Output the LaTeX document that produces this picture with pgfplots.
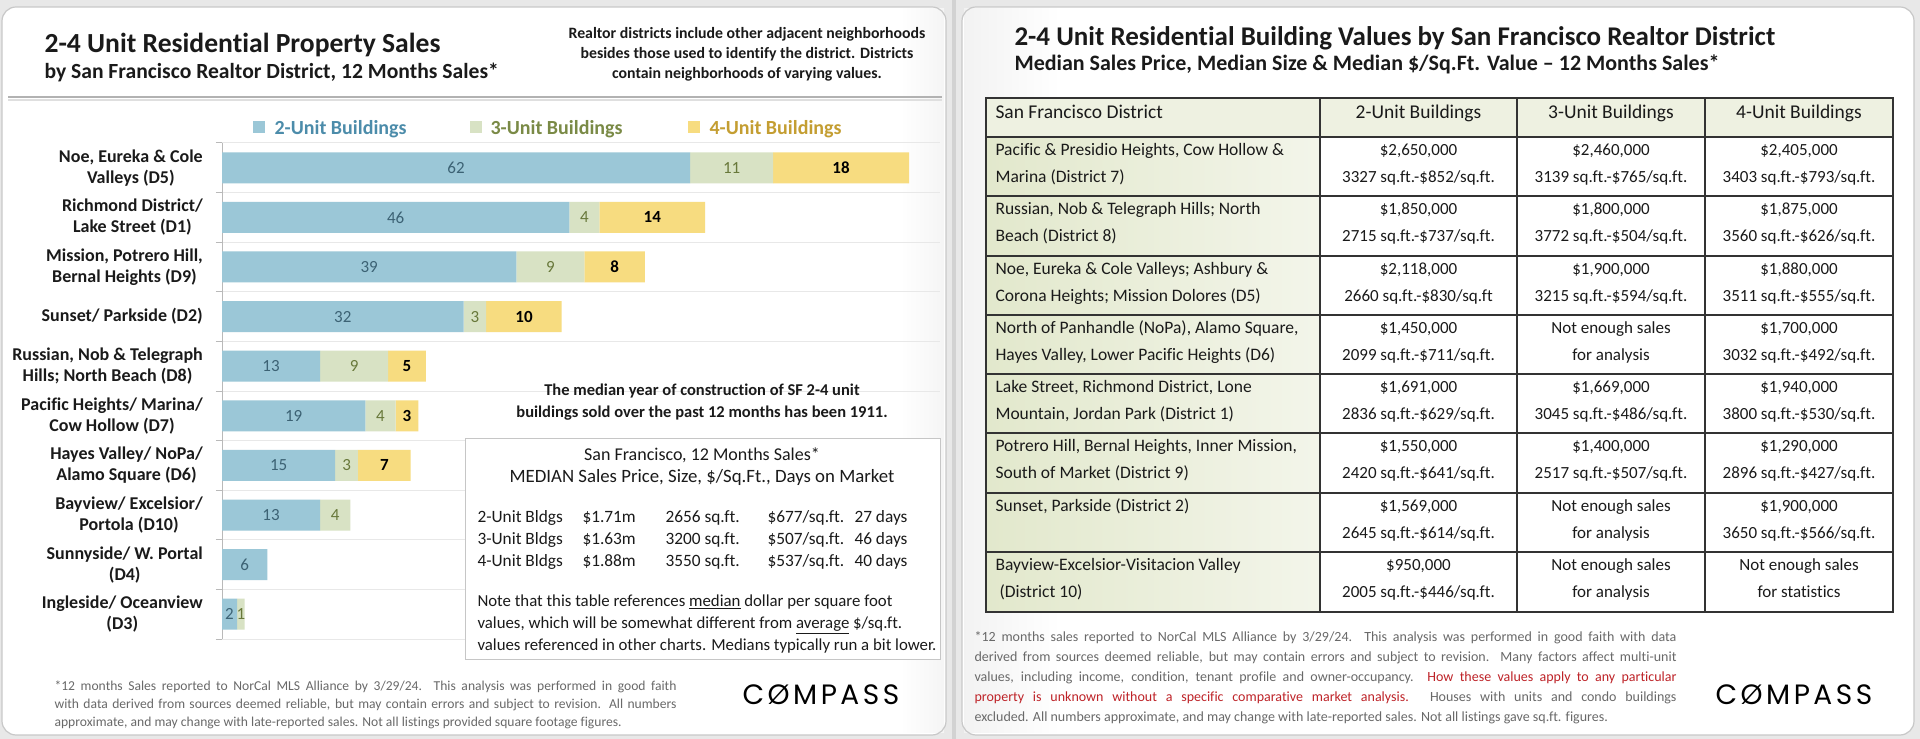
\documentclass[border=0pt]{standalone}
\usepackage{fontspec}
\setmainfont{Carlito}[Ligatures=NoCommon]
\newfontfamily\logofont{Poppins}
\usepackage{pgfplots}
\usepackage{pgfplotstable}
\pgfplotsset{compat=1.18}

\definecolor{barA}{RGB}{155,199,215}
\definecolor{barB}{RGB}{216,226,196}
\definecolor{barC}{RGB}{247,220,128}
\definecolor{labA}{RGB}{60,98,116}
\definecolor{labB}{RGB}{104,120,58}
\definecolor{legA}{RGB}{76,140,170}
\definecolor{legB}{RGB}{122,138,70}
\definecolor{legC}{RGB}{196,158,50}
\definecolor{ink}{RGB}{26,26,26}
\definecolor{note}{RGB}{105,105,105}
\definecolor{redtxt}{RGB}{190,35,40}
\definecolor{distL}{RGB}{226,232,204}
\definecolor{distR}{RGB}{243,245,234}
\definecolor{headfill}{RGB}{238,241,225}
\definecolor{bg}{RGB}{232,232,232}
\definecolor{pageedge}{RGB}{200,200,200}

\newcommand{\fs}[2]{\fontsize{#1pt}{#2pt}\selectfont}
\pgfdeclareplotmark{empty}{}

% sales by district, 2-, 3- and 4-unit buildings
\pgfplotstableread{
idx n2 n3 n4
0 62 11 18
1 46 4 14
2 39 9 8
3 32 3 10
4 13 9 5
5 19 4 3
6 15 3 7
7 13 4 0
8 6 0 0
9 2 1 0
}\sales

\newcommand{\tcell}[4]{%
  \node[anchor=base, font=\fs{17}{20}, text=ink] at (#1,#2+18.5) {#3};
  \node[anchor=base, font=\fs{17}{20}, text=ink] at (#1,#2+45.5) {#4};}
\newcommand{\dcell}[3]{%
  \node[anchor=base west, font=\fs{17.5}{20}, text=ink] at (992,#1+18.5) {#2};
  \node[anchor=base west, font=\fs{17.5}{20}, text=ink] at (992,#1+45.5) {#3};}

\begin{document}
\begin{tikzpicture}[x=1pt,y=1pt]
\path[use as bounding box] (0,0) rectangle (1920,739);
\fill[bg] (0,0) rectangle (1920,739);

\begin{scope}[shift={(0,739)},yscale=-1]
  % pages
  \fill[white, rounded corners=14pt] (2,7) rectangle (946,735);
  \fill[white, rounded corners=14pt] (962,7) rectangle (1914,735);
  \shade[left color=gray!10, right color=white] (964,9) rectangle (1060,733);
  \shade[left color=white, right color=gray!8] (900,9) rectangle (944,733);
  \draw[pageedge, line width=1.2pt, rounded corners=14pt] (2,7) rectangle (946,735);
  \draw[pageedge, line width=1.2pt, rounded corners=14pt] (962,7) rectangle (1914,735);
  \fill[gray!35] (952,0) rectangle (956,739);

  % left header
  \node[anchor=base west, font=\fs{27.6}{32}\bfseries, text=ink] at (41,53) {2-4 Unit Residential Property Sales};
  \node[anchor=base west, font=\fs{21.6}{25}\bfseries, text=ink] at (41,79) {by San Francisco Realtor District, 12 Months Sales*};
  \node[anchor=base, font=\fs{15.8}{20}\bfseries, text=ink] at (747,39) {Realtor districts include other adjacent neighborhoods};
  \node[anchor=base, font=\fs{15.8}{20}\bfseries, text=ink] at (747,59) {besides those used to identify the district. Districts};
  \node[anchor=base, font=\fs{15.8}{20}\bfseries, text=ink] at (747,79) {contain neighborhoods of varying values.};
  \draw[gray!25, line width=2pt] (8,100) -- (942,100);
  \draw[gray!60, line width=2.2pt] (8,97) -- (942,97);

  % legend
  \fill[barA] (253,121) rectangle (265,133);
  \node[anchor=base west, font=\fs{20}{22}\bfseries, text=legA] at (271,134.5) {2-Unit Buildings};
  \fill[barB] (470,121) rectangle (482,133);
  \node[anchor=base west, font=\fs{20}{22}\bfseries, text=legB] at (487,134.5) {3-Unit Buildings};
  \fill[barC] (688,121) rectangle (700,133);
  \node[anchor=base west, font=\fs{20}{22}\bfseries, text=legC] at (706,134.5) {4-Unit Buildings};
\end{scope}

\begin{axis}[at={(222pt,100pt)}, anchor=south west, scale only axis,
  width=718pt, height=496pt,
  xbar stacked, bar width=31pt, y dir=reverse,
  xmin=0, xmax=95.1, ymin=-0.5, ymax=9.5,
  axis x line=none, axis y line*=left,
  axis line style={draw=gray!55, line width=1pt},
  ytick={-0.5,0.5,...,9.5}, yticklabels={},
  tick align=outside, major tick length=6pt,
  ytick style={draw=gray!55, line width=1pt},
  ymajorgrids, grid style={draw=gray!18, line width=1pt},
  extra y ticks={0,1,2,3,4,5,6,7,8,9},
  extra y tick style={major tick length=0pt, grid=none},
  extra y tick labels={
    {Noe, Eureka \& Cole\\Valleys (D5)},
    {Richmond District/\\Lake Street (D1)},
    {Mission, Potrero Hill,\\Bernal Heights (D9)},
    {Sunset/ Parkside (D2)},
    {Russian, Nob \& Telegraph\\Hills; North Beach (D8)},
    {Pacific Heights/ Marina/\\Cow Hollow (D7)},
    {Hayes Valley/ NoPa/\\Alamo Square (D6)},
    {Bayview/ Excelsior/\\Portola (D10)},
    {Sunnyside/ W. Portal\\(D4)},
    {Ingleside/ Oceanview\\(D3)}},
  yticklabel style={align=center, inner sep=0pt, xshift=-19pt,
    font=\fs{18}{21}\bfseries, text=ink},
  clip=false]
\addplot[fill=barA, draw=none] table[x=n2, y=idx] {\sales};
\addplot[fill=barB, draw=none] table[x=n3, y=idx] {\sales};
\addplot[fill=barC, draw=none] table[x=n4, y=idx] {\sales};
\end{axis}

\begin{axis}[at={(222pt,100pt)}, anchor=south west, scale only axis,
  width=718pt, height=496pt, y dir=reverse,
  xmin=0, xmax=95.1, ymin=-0.5, ymax=9.5, hide axis, clip=false,
  /pgf/number format/assume math mode=true,
  nodes near coords={\pgfmathfloatifflags{\pgfplotspointmeta}{0}{}{\pgfmathprintnumber{\pgfplotspointmeta}}},
  every node near coord/.append style={anchor=center, inner sep=0pt}]
\addplot[only marks, mark=empty, point meta=explicit,
  every node near coord/.append style={text=labA, font=\fs{17}{18}}]
  table[x expr=\thisrow{n2}/2, y=idx, meta=n2] {\sales};
\addplot[only marks, mark=empty, point meta=explicit,
  every node near coord/.append style={text=labB, font=\fs{17}{18}}]
  table[x expr=\thisrow{n2}+\thisrow{n3}/2, y=idx, meta=n3] {\sales};
\addplot[only marks, mark=empty, point meta=explicit,
  every node near coord/.append style={text=black, font=\fs{17}{18}\bfseries}]
  table[x expr=\thisrow{n2}+\thisrow{n3}+\thisrow{n4}/2, y=idx, meta=n4] {\sales};
\end{axis}

\begin{scope}[shift={(0,739)},yscale=-1]
  % median year note and summary box
  \node[anchor=base, font=\fs{16.5}{20}\bfseries, text=ink] at (702,396) {The median year of construction of SF 2-4 unit};
  \node[anchor=base, font=\fs{16.5}{20}\bfseries, text=ink] at (702,418) {buildings sold over the past 12 months has been 1911.};
  \draw[gray!45, fill=white, line width=1pt] (465,439) rectangle (940,660);
  \node[anchor=base, font=\fs{18}{21}, text=ink] at (702,461) {San Francisco, 12 Months Sales*};
  \node[anchor=base, font=\fs{18.8}{21}, text=ink] at (702,483) {MEDIAN Sales Price, Size, \$/Sq.Ft., Days on Market};
  \foreach \yy/\a/\b/\c/\d/\e in {523/2-Unit Bldgs/\$1.71m/2656 sq.ft./\$677/27 days,
                                   545/3-Unit Bldgs/\$1.63m/3200 sq.ft./\$507/46 days,
                                   567/4-Unit Bldgs/\$1.88m/3550 sq.ft./\$537/40 days}{
    \node[anchor=base west, font=\fs{17.3}{21}, text=ink] at (474,\yy) {\a};
    \node[anchor=base west, font=\fs{17.3}{21}, text=ink] at (579,\yy) {\b};
    \node[anchor=base west, font=\fs{17.3}{21}, text=ink] at (662,\yy) {\c};
    \node[anchor=base west, font=\fs{17.3}{21}, text=ink] at (764,\yy) {\d/sq.ft.};
    \node[anchor=base west, font=\fs{17.3}{21}, text=ink] at (851,\yy) {\e};
  }
  \node[anchor=base west, font=\fs{16.8}{21}, text=ink] at (474,607) {Note that this table references \underline{median} dollar per square foot};
  \node[anchor=base west, font=\fs{16.8}{21}, text=ink] at (474,629) {values, which will be somewhat different from \underline{average} \$/sq.ft.};
  \node[anchor=base west, font=\fs{16.8}{21}, text=ink] at (474,651) {values referenced in other charts. Medians typically run a bit lower.};

  % left footer
  \node[anchor=base west, font=\fs{13.6}{17}, text=note] at (51,691) {\makebox[622pt][s]{*12 months Sales reported to NorCal MLS Alliance by 3/29/24. This analysis was performed in good faith}};
  \node[anchor=base west, font=\fs{13.6}{17}, text=note] at (51,709) {\makebox[622pt][s]{with data derived from sources deemed reliable, but may contain errors and subject to revision. All numbers}};
  \node[anchor=base west, font=\fs{13.6}{17}, text=note] at (51,727) {approximate, and may change with late-reported sales. Not all listings provided square footage figures.};
  \node[anchor=base west, font=\logofont\fs{28}{30}, text=black] at (739,705) {C\kern3.5pt Ø\kern3.5pt M\kern3.5pt P\kern3.5pt A\kern3.5pt S\kern3.5pt S};

  % right page header
  \node[anchor=base west, font=\fs{27}{32}\bfseries, text=ink] at (1011,46) {2-4 Unit Residential Building Values by San Francisco Realtor District};
  \node[anchor=base west, font=\fs{22}{25}\bfseries, text=ink] at (1011,71) {Median Sales Price, Median Size \& Median \$/Sq.Ft. Value – 12 Months Sales*};

  % right table
  \fill[headfill] (986,98) rectangle (1893,137);
  \shade[left color=distL, right color=distR] (986,137) rectangle (1320,612);
  \foreach \yy in {137,196,256,315,374,433,493,552}
    \draw[black!80, line width=1.4pt] (986,\yy) -- (1893,\yy);
  \foreach \xx in {1320,1517,1705}
    \draw[black!80, line width=1.4pt] (\xx,98) -- (\xx,612);
  \draw[black!80, line width=1.6pt] (986,98) rectangle (1893,612);

  \node[anchor=base west, font=\fs{19.5}{22}, text=ink] at (992,119) {San Francisco District};
  \node[anchor=base, font=\fs{19.5}{22}, text=ink] at (1418.5,119) {2-Unit Buildings};
  \node[anchor=base, font=\fs{19.5}{22}, text=ink] at (1611,119) {3-Unit Buildings};
  \node[anchor=base, font=\fs{19.5}{22}, text=ink] at (1799,119) {4-Unit Buildings};

  \dcell{137}{Pacific \& Presidio Heights, Cow Hollow \&}{Marina (District 7)}
  \tcell{1418.5}{137}{\$2,650,000}{3327 sq.ft.-\$852/sq.ft.}
  \tcell{1611}{137}{\$2,460,000}{3139 sq.ft.-\$765/sq.ft.}
  \tcell{1799}{137}{\$2,405,000}{3403 sq.ft.-\$793/sq.ft.}

  \dcell{196}{Russian, Nob \& Telegraph Hills; North}{Beach (District 8)}
  \tcell{1418.5}{196}{\$1,850,000}{2715 sq.ft.-\$737/sq.ft.}
  \tcell{1611}{196}{\$1,800,000}{3772 sq.ft.-\$504/sq.ft.}
  \tcell{1799}{196}{\$1,875,000}{3560 sq.ft.-\$626/sq.ft.}

  \dcell{256}{Noe, Eureka \& Cole Valleys; Ashbury \&}{Corona Heights; Mission Dolores (D5)}
  \tcell{1418.5}{256}{\$2,118,000}{2660 sq.ft.-\$830/sq.ft}
  \tcell{1611}{256}{\$1,900,000}{3215 sq.ft.-\$594/sq.ft.}
  \tcell{1799}{256}{\$1,880,000}{3511 sq.ft.-\$555/sq.ft.}

  \dcell{315}{North of Panhandle (NoPa), Alamo Square,}{Hayes Valley, Lower Pacific Heights (D6)}
  \tcell{1418.5}{315}{\$1,450,000}{2099 sq.ft.-\$711/sq.ft.}
  \tcell{1611}{315}{Not enough sales}{for analysis}
  \tcell{1799}{315}{\$1,700,000}{3032 sq.ft.-\$492/sq.ft.}

  \dcell{374}{Lake Street, Richmond District, Lone}{Mountain, Jordan Park (District 1)}
  \tcell{1418.5}{374}{\$1,691,000}{2836 sq.ft.-\$629/sq.ft.}
  \tcell{1611}{374}{\$1,669,000}{3045 sq.ft.-\$486/sq.ft.}
  \tcell{1799}{374}{\$1,940,000}{3800 sq.ft.-\$530/sq.ft.}

  \dcell{433}{Potrero Hill, Bernal Heights, Inner Mission,}{South of Market (District 9)}
  \tcell{1418.5}{433}{\$1,550,000}{2420 sq.ft.-\$641/sq.ft.}
  \tcell{1611}{433}{\$1,400,000}{2517 sq.ft.-\$507/sq.ft.}
  \tcell{1799}{433}{\$1,290,000}{2896 sq.ft.-\$427/sq.ft.}

  \dcell{493}{Sunset, Parkside (District 2)}{}
  \tcell{1418.5}{493}{\$1,569,000}{2645 sq.ft.-\$614/sq.ft.}
  \tcell{1611}{493}{Not enough sales}{for analysis}
  \tcell{1799}{493}{\$1,900,000}{3650 sq.ft.-\$566/sq.ft.}

  \dcell{552}{Bayview-Excelsior-Visitacion Valley}{\ (District 10)}
  \tcell{1418.5}{552}{\$950,000}{2005 sq.ft.-\$446/sq.ft.}
  \tcell{1611}{552}{Not enough sales}{for analysis}
  \tcell{1799}{552}{Not enough sales}{for statistics}

  % right footer
  \node[anchor=base west, font=\fs{14}{17}, text=note] at (971,642) {\makebox[702pt][s]{*12 months sales reported to NorCal MLS Alliance by 3/29/24. This analysis was performed in good faith with data}};
  \node[anchor=base west, font=\fs{14}{17}, text=note] at (971,662) {\makebox[702pt][s]{derived from sources deemed reliable, but may contain errors and subject to revision. Many factors affect multi-unit}};
  \node[anchor=base west, font=\fs{14}{17}, text=note] at (971,682) {\makebox[702pt][s]{values, including income, condition, tenant profile and owner-occupancy. \textcolor{redtxt}{How these values apply to any particular}}};
  \node[anchor=base west, font=\fs{14}{17}, text=note] at (971,702) {\makebox[702pt][s]{\textcolor{redtxt}{property is unknown without a specific comparative market analysis.} Houses with units and condo buildings}};
  \node[anchor=base west, font=\fs{14}{17}, text=note] at (971,722) {excluded. All numbers approximate, and may change with late-reported sales. Not all listings gave sq.ft. figures.};
  \node[anchor=base west, font=\logofont\fs{28}{30}, text=black] at (1712,705) {C\kern3.5pt Ø\kern3.5pt M\kern3.5pt P\kern3.5pt A\kern3.5pt S\kern3.5pt S};
\end{scope}
\end{tikzpicture}
\end{document}
